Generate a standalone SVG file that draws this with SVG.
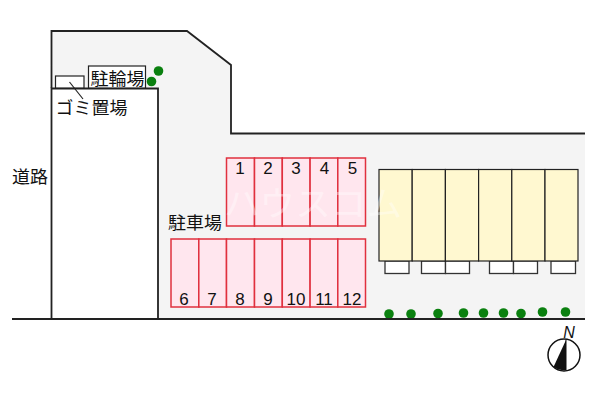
<svg xmlns="http://www.w3.org/2000/svg" width="600" height="400" viewBox="0 0 600 400">
<style>
text{font-family:"Noto Sans CJK JP","Liberation Sans",sans-serif;fill:#111}
.lbl{font-size:17.500px}
.num{font-family:"Liberation Sans",sans-serif;font-size:17px;text-anchor:middle}
.lot{fill:#ffe6ee;stroke:#e0303e;stroke-width:1.500}
.unit{fill:#fff8d0;stroke:#222;stroke-width:1.200}
.bal{fill:#fff;stroke:#333;stroke-width:1.300}
.tree{fill:#0a800f}
.box{fill:#fff;stroke:#222;stroke-width:1.200}
.wm{font-size:34px;fill:#fff;fill-opacity:.4}
</style>
<rect width="600" height="400" fill="#fff"/>
<g id="site"><path d="M51.500 319V31H187L231 65V133.500H585V319Z" fill="#f4f4f4"/>
<path d="M51.500 88V31H187L231 65V133.500H585" fill="none" stroke="#222" stroke-width="1.800"/></g>
<g id="building"><path d="M51.500 319V88.500H158V319" fill="#fff" stroke="#222" stroke-width="1.800"/></g>
<g id="bike-parking"><rect class="box" x="88.500" y="66" width="57" height="22"/><text class="lbl" x="90.500" y="85" textLength="54" lengthAdjust="spacingAndGlyphs">駐輪場</text></g>
<g id="garbage"><rect class="box" x="55.500" y="76" width="28.500" height="12"/><text class="lbl" x="55.500" y="113.500" textLength="72" lengthAdjust="spacingAndGlyphs">ゴミ置場</text></g>
<g id="road-label"><text class="lbl" x="12" y="182.500" textLength="36" lengthAdjust="spacingAndGlyphs">道路</text></g>
<g id="parking-label"><text class="lbl" x="168" y="228.500" textLength="54" lengthAdjust="spacingAndGlyphs">駐車場</text></g>
<g id="parking-top">
<rect class="lot" x="226.500" y="158" width="28" height="68"/><rect class="lot" x="254.500" y="158" width="27.800" height="68"/><rect class="lot" x="282.300" y="158" width="27.800" height="68"/><rect class="lot" x="310.100" y="158" width="27.700" height="68"/><rect class="lot" x="337.800" y="158" width="27.700" height="68"/>
<text class="num" x="240" y="173.500">1</text><text class="num" x="268" y="173.500">2</text><text class="num" x="296" y="173.500">3</text><text class="num" x="324.500" y="173.500">4</text><text class="num" x="352.500" y="173.500">5</text></g>
<g id="parking-bottom">
<rect class="lot" x="171" y="239" width="27.800" height="68"/><rect class="lot" x="198.800" y="239" width="27.700" height="68"/><rect class="lot" x="226.500" y="239" width="28" height="68"/><rect class="lot" x="254.500" y="239" width="27.800" height="68"/><rect class="lot" x="282.300" y="239" width="27.800" height="68"/><rect class="lot" x="310.100" y="239" width="27.700" height="68"/><rect class="lot" x="337.800" y="239" width="27.700" height="68"/>
<text class="num" x="184" y="305">6</text><text class="num" x="212" y="305">7</text><text class="num" x="240" y="305">8</text><text class="num" x="268" y="305">9</text><text class="num" x="296" y="305">10</text><text class="num" x="324" y="305">11</text><text class="num" x="352" y="305">12</text></g>
<g id="apartment">
<rect class="bal" x="385" y="261" width="24" height="12.500"/><rect class="bal" x="421.500" y="261" width="24" height="12.500"/><rect class="bal" x="445.500" y="261" width="24" height="12.500"/><rect class="bal" x="489.500" y="261" width="24" height="12.500"/><rect class="bal" x="513.500" y="261" width="24" height="12.500"/><rect class="bal" x="551" y="261" width="24.500" height="12.500"/>
<rect class="unit" x="379" y="169.500" width="33.200" height="91.500"/><rect class="unit" x="412.200" y="169.500" width="33.200" height="91.500"/><rect class="unit" x="445.400" y="169.500" width="33.200" height="91.500"/><rect class="unit" x="478.600" y="169.500" width="33.200" height="91.500"/><rect class="unit" x="511.800" y="169.500" width="33.200" height="91.500"/><rect class="unit" x="545" y="169.500" width="33" height="91.500"/></g>
<g id="trees">
<circle class="tree" cx="158.500" cy="71" r="4.800"/><circle class="tree" cx="151.500" cy="81.500" r="4.800"/>
<circle class="tree" cx="389" cy="314" r="4.800"/><circle class="tree" cx="411" cy="314" r="4.800"/><circle class="tree" cx="438" cy="313.500" r="4.800"/><circle class="tree" cx="463.500" cy="313" r="4.800"/><circle class="tree" cx="483.500" cy="313" r="4.800"/><circle class="tree" cx="503.500" cy="313" r="4.800"/><circle class="tree" cx="521" cy="313.500" r="4.800"/><circle class="tree" cx="542.500" cy="312" r="4.800"/><circle class="tree" cx="565.500" cy="312" r="4.800"/></g>
<g id="connectors" fill="none" stroke="#222"><path d="M69.500 82L83 99" stroke-width="1.200"/><path d="M12 319H585" stroke-width="1.800"/></g>
<g id="north"><circle cx="564" cy="355" r="16" fill="#fff" stroke="#111" stroke-width="1.500"/><path d="M566 340L553.500 367Q561 371 566 370Z" fill="#111"/><path d="M566 340L566 370" stroke="#111" stroke-width="1"/><text x="569" y="338" font-size="16" font-style="italic" text-anchor="middle" style="font-family:'Liberation Sans',sans-serif">N</text></g>
<text class="wm" x="224" y="216" textLength="178" lengthAdjust="spacingAndGlyphs">ハウスコム</text>
</svg>
